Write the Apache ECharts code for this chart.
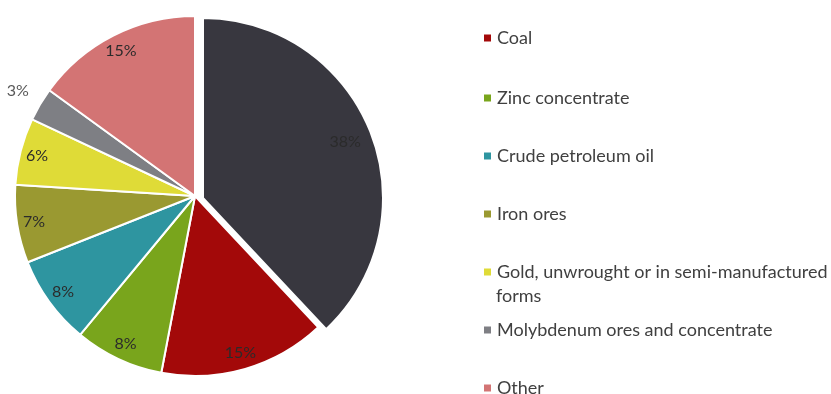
<!DOCTYPE html>
<html>
<head>
<meta charset="utf-8">
<script src="https://cdn.jsdelivr.net/npm/echarts@6/dist/echarts.min.js"></script>
<style>
  html, body { margin: 0; padding: 0; background: #ffffff; }
  #chart { width: 831px; height: 394px; }
</style>
</head>
<body>
<div id="chart"></div>
<script>
// Export structure by product, share of total (%)
const categories = [
  'Copper ores and concentrates',
  'Coal',
  'Zinc concentrate',
  'Crude petroleum oil',
  'Iron ores',
  'Gold, unwrought or in semi-manufactured forms',
  'Molybdenum ores and concentrate',
  'Other'
];
const shares = [38, 15, 8, 8, 7, 6, 3, 15];
const colors = ['#38373f', '#a30909', '#79a51c', '#2e95a0', '#9a9931', '#dfdb37', '#7e7f84', '#d37474'];

// Legend lists every product except the leading (exploded) one
const legendNames = categories.slice(1);

const FONT = 'Lato, "Open Sans", sans-serif';
const CX = 195, CY = 196, R = 180;
const EXPLODE = [8, 2];          // shift of the exploded slice
const LH = 20;
const LEGEND_X = 482;
const legendIconCentres = [38, 98, 156, 214, 272, 330, 388];

const EXPLODED = 0;                 // index of the pulled-out slice
const OUTSIDE = 6;                  // index whose value label sits outside the pie
const TRANSPARENT = 'rgba(0,0,0,0)';

function sliceData(visible, labelled) {
  return categories.map((name, i) => ({
    name,
    value: shares[i],
    itemStyle: visible(i)
      ? { color: colors[i], borderColor: '#ffffff', borderWidth: 2 }
      : { color: TRANSPARENT, borderWidth: 0 },
    label: { show: labelled(i) }
  }));
}

const baseSeries = {
  type: 'pie',
  startAngle: 90,
  clockwise: true,
  avoidLabelOverlap: false,
  silent: true,
  emphasis: { disabled: true },
  labelLine: { show: false },
  label: {
    position: 'inside',
    formatter: '{c}%',
    fontFamily: FONT,
    fontSize: 16,
    color: '#2b2b2b'
  }
};

const explodedCentre = [CX + EXPLODE[0], CY + EXPLODE[1]];

const series = [
  // main body of the pie
  Object.assign({}, baseSeries, {
    center: [CX, CY], radius: [0, R],
    data: sliceData(i => i !== EXPLODED, () => false)
  }),
  // the exploded slice
  Object.assign({}, baseSeries, {
    center: explodedCentre, radius: [0, R],
    data: sliceData(i => i === EXPLODED, () => false)
  }),
  // value labels near the rim
  Object.assign({}, baseSeries, {
    center: [CX, CY], radius: [140, R],
    data: sliceData(() => false, i => i !== EXPLODED && i !== OUTSIDE)
  }),
  Object.assign({}, baseSeries, {
    center: explodedCentre, radius: [120, R],
    data: sliceData(() => false, i => i === EXPLODED)
  }),
  // small slice: label just beyond the rim
  Object.assign({}, baseSeries, {
    center: [CX, CY], radius: [R + 16, R + 30],
    label: Object.assign({}, baseSeries.label, { color: '#595959' }),
    data: sliceData(() => false, i => i === OUTSIDE)
  })
];

const WRAP_AT = ' forms';
const legends = legendNames.map((name, i) => ({
  data: [name],
  orient: 'vertical',
  left: LEGEND_X,
  top: legendIconCentres[i] - LH / 2,
  padding: 0,
  itemWidth: 9,
  itemHeight: 9,
  icon: 'rect',
  selectedMode: false,
  formatter: n => (n.endsWith(WRAP_AT) ? n.slice(0, -WRAP_AT.length) : n),
  textStyle: { fontFamily: FONT, fontSize: 18, color: '#404040', lineHeight: LH }
}));

// continuation line of the wrapped legend entry
const wrappedIndex = legendNames.findIndex(n => n.endsWith(WRAP_AT));
const graphic = wrappedIndex < 0 ? [] : [{
  type: 'text',
  left: LEGEND_X + 14,
  top: legendIconCentres[wrappedIndex] + 24 - LH / 2,
  silent: true,
  style: {
    text: WRAP_AT.trim(),
    font: '18px ' + FONT,
    fill: '#404040',
    lineHeight: LH
  }
}];

const chart = echarts.init(document.getElementById('chart'), null, { renderer: 'canvas' });
chart.setOption({
  backgroundColor: '#ffffff',
  animation: false,
  legend: legends,
  graphic,
  series
});
</script>
</body>
</html>
